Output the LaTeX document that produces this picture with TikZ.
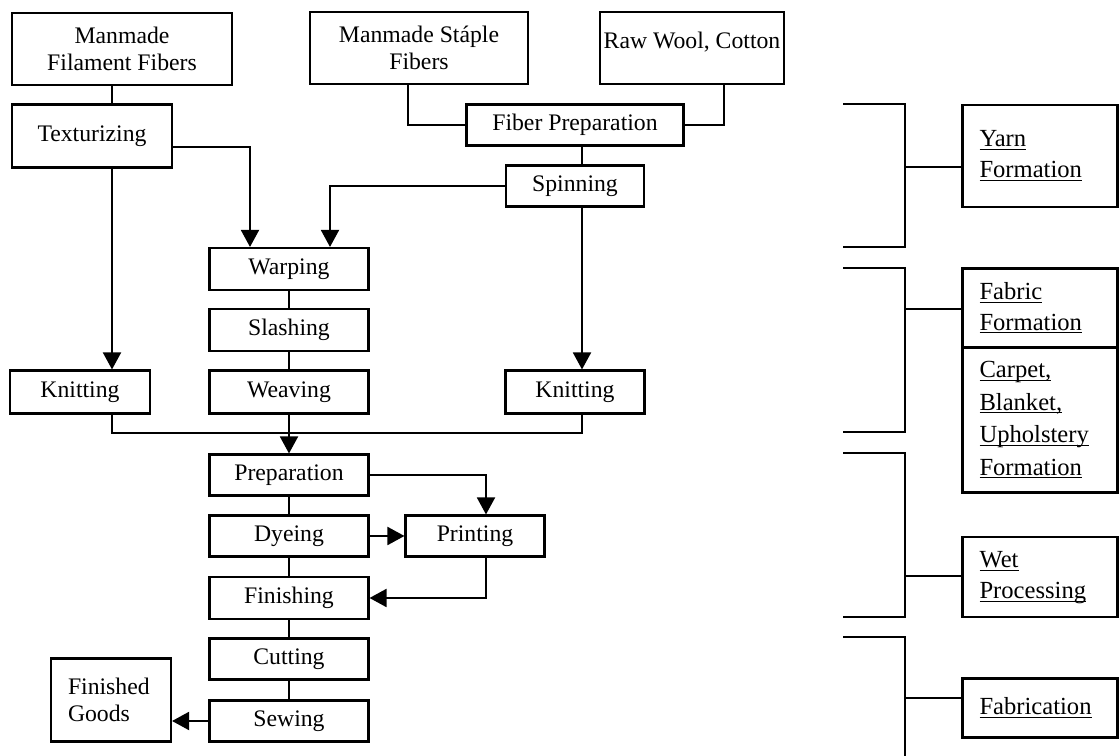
\documentclass[tikz,border=0pt]{standalone}
\usepackage{fontspec}
\setmainfont{Liberation Serif}
\usetikzlibrary{arrows.meta}

\newcommand\ulword[1]{\underline{\raisebox{0pt}[\height][0pt]{#1}}}

\tikzset{
  box/.style={draw, line width=1.2pt, inner sep=2pt, align=center,
    font=\fontsize{13.5}{15.5}\selectfont},
  tag/.style={box, minimum width=3.1cm, text width=2.42cm, align=left,
    font=\fontsize{14}{17.5}\selectfont},
  link/.style={line width=1.1pt},
  arr/.style={-{Triangle[length=0.34cm,width=0.36cm]}}
}

\begin{document}
\begin{tikzpicture}[x=0.02cm,y=-0.02cm]
  \useasboundingbox (0,0) rectangle (1120,756);
  \node[box, minimum width=4.4cm, minimum height=1.44cm] (mff) at (122,49) {Manmade\\Filament Fibers};
  \node[box, minimum width=4.36cm, minimum height=1.44cm] (msf) at (419,48) {Manmade St\'aple\\Fibers};
  \node[box, minimum width=3.5cm, minimum height=1.44cm] (raw) at (692,48) {Raw Wool, Cotton\\[-7pt]\mbox{}};
  \node[box, minimum width=3.2cm, minimum height=1.26cm] (tex) at (92,136) {Texturizing};
  \node[box, minimum width=4.34cm, minimum height=0.82cm] (fprep) at (575,125) {Fiber Preparation};
  \node[box, minimum width=2.76cm, minimum height=0.82cm] (spin) at (575,186) {Spinning};
  \node[box, minimum width=3.18cm, minimum height=0.84cm] (warp) at (289,269) {Warping};
  \node[box, minimum width=3.18cm, minimum height=0.84cm] (slash) at (289,330) {Slashing};
  \node[box, minimum width=3.18cm, minimum height=0.86cm] (weave) at (289,392) {Weaving};
  \node[box, minimum width=2.8cm, minimum height=0.86cm] (knitL) at (80,392) {Knitting};
  \node[box, minimum width=2.78cm, minimum height=0.86cm] (knitR) at (575,392) {Knitting};
  \node[box, minimum width=3.18cm, minimum height=0.82cm] (prep) at (289,475) {Preparation};
  \node[box, minimum width=3.18cm, minimum height=0.82cm] (dye) at (289,536) {Dyeing};
  \node[box, minimum width=2.78cm, minimum height=0.82cm] (print) at (475,536) {Printing};
  \node[box, minimum width=3.18cm, minimum height=0.84cm] (finish) at (289,598) {Finishing};
  \node[box, minimum width=3.18cm, minimum height=0.82cm] (cut) at (289,659) {Cutting};
  \node[box, minimum width=3.18cm, minimum height=0.82cm] (sew) at (289,721) {Sewing};
  \node[box, minimum width=2.4cm, minimum height=1.66cm, text width=1.72cm, align=left] (goods) at (111,700) {Finished\\Goods};

  \node[tag, minimum height=2.04cm] (yarn) at (1040,156) {\ulword{Yarn}\\\ulword{Formation}};
  \node[tag, minimum height=1.58cm] (fabric) at (1040,308) {\ulword{Fabric}\\\ulword{Formation}};
  \node[tag, minimum height=2.9cm, font=\fontsize{14}{18.5}\selectfont] (carpet) at (1040,420) {\ulword{Carpet,}\\\ulword{Blanket,}\\\ulword{Upholstery}\\\ulword{Formation}};
  \node[tag, minimum height=1.6cm] (wet) at (1040,577) {\ulword{Wet}\\\ulword{Processing}};
  \node[tag, minimum height=1.18cm] (fabr) at (1040,708) {\ulword{Fabrication}};

  \coordinate (colA) at (112,0);
  \coordinate (colB) at (250,0);
  \coordinate (colC) at (330,0);
  \coordinate (colD) at (582,0);
  \coordinate (colE) at (408,0);
  \coordinate (colF) at (724,0);
  \coordinate (colP) at (486,0);
  \coordinate (rowT) at (0,147);
  \coordinate (rowM) at (0,433);

  \draw[link] (mff.south -| colA) -- (tex.north -| colA);
  \draw[link,arr] (tex.south -| colA) -- (knitL.north -| colA);
  \draw[link,arr] (tex.east |- rowT) -| (warp.north -| colB);
  \draw[link] (msf.south -| colE) |- (fprep.west);
  \draw[link] (raw.south -| colF) |- (fprep.east);
  \draw[link] (fprep.south -| colD) -- (spin.north -| colD);
  \draw[link,arr] (spin.west) -| (warp.north -| colC);
  \draw[link,arr] (spin.south -| colD) -- (knitR.north -| colD);
  \draw[link] (warp) -- (slash);
  \draw[link] (slash) -- (weave);
  \draw[link] (knitL.south -| colA) |- (rowM -| colD) -- (knitR.south -| colD);
  \draw[link,arr] (weave) -- (prep);
  \draw[link] (prep) -- (dye);
  \draw[link] (dye) -- (finish);
  \draw[link] (finish) -- (cut);
  \draw[link] (cut) -- (sew);
  \draw[link,arr] (prep.east) -| (print.north -| colP);
  \draw[link,arr] (dye) -- (print);
  \draw[link,arr] (print.south -| colP) |- (finish.east);
  \draw[link,arr] (sew.west) -- (sew.west -| goods.east);

  \coordinate (bY) at (905,167);
  \coordinate (bF) at (905,309);
  \coordinate (bW) at (905,576);
  \coordinate (bB) at (905,698);
  \draw[link] (843,104) -| (905,247) -- (843,247);
  \draw[link] (843,268) -| (905,432) -- (843,432);
  \draw[link] (843,453) -| (905,617) -- (843,617);
  \draw[link] (843,637) -| (905,756);
  \draw[link] (bY) -- (bY -| yarn.west);
  \draw[link] (bF) -- (bF -| fabric.west);
  \draw[link] (bW) -- (bW -| wet.west);
  \draw[link] (bB) -- (bB -| fabr.west);
\end{tikzpicture}
\end{document}
